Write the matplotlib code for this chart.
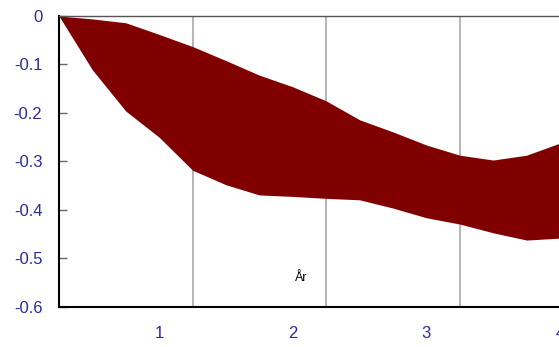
import matplotlib
matplotlib.use('Agg')
import matplotlib.pyplot as plt

# quarterly points, band between lower and upper estimate
quarters = list(range(16))
upper = [0, -0.006, -0.014, -0.038, -0.063, -0.092, -0.122, -0.146,
         -0.175, -0.214, -0.239, -0.266, -0.287, -0.297, -0.287, -0.262]
lower = [0, -0.111, -0.196, -0.250, -0.318, -0.348, -0.369, -0.372,
         -0.376, -0.379, -0.396, -0.416, -0.429, -0.447, -0.462, -0.458]
year_ticks = [3, 7, 11, 15]
year_labels = ['1', '2', '3', '4']
year_grid = [4, 8, 12, 16]
y_ticks = [0, -0.1, -0.2, -0.3, -0.4, -0.5, -0.6]
y_labels = ['0', '-0.1', '-0.2', '-0.3', '-0.4', '-0.5', '-0.6']

label_font = ['Liberation Sans Narrow', 'Liberation Sans', 'DejaVu Sans']
label_color = '#2b2b9a'

fig = plt.figure(figsize=(5.59, 3.47), dpi=100)
ax = fig.add_axes([0.1055, 0.1153, 0.956, 0.8386])

ax.fill_between(quarters, lower, upper, color='#800000', linewidth=0, zorder=2)

for g in year_grid:
    ax.axvline(g, color='#a8a8a8', linewidth=1.2, zorder=1)

ax.set_xlim(0, 16)
ax.set_ylim(-0.6, 0)

ax.set_yticks(y_ticks)
ax.set_yticklabels(y_labels, family=label_font, fontsize=12, color=label_color)
ax.set_xticks(year_ticks)
ax.set_xticklabels(year_labels, family=label_font, fontsize=12, color=label_color)
ax.tick_params(axis='y', direction='in', length=6, width=1, color='#666666', pad=12)
ax.tick_params(axis='x', length=0, pad=14)

ax.spines['left'].set_linewidth(1.5)
ax.spines['bottom'].set_linewidth(1.5)
ax.spines['top'].set_color('#555555')
ax.spines['top'].set_linewidth(1)
ax.spines['right'].set_visible(False)

ax.text(7.25, -0.540, 'År', family=label_font, fontsize=9, color='black',
        ha='center', va='center')

fig.savefig('out.png', dpi=100)
